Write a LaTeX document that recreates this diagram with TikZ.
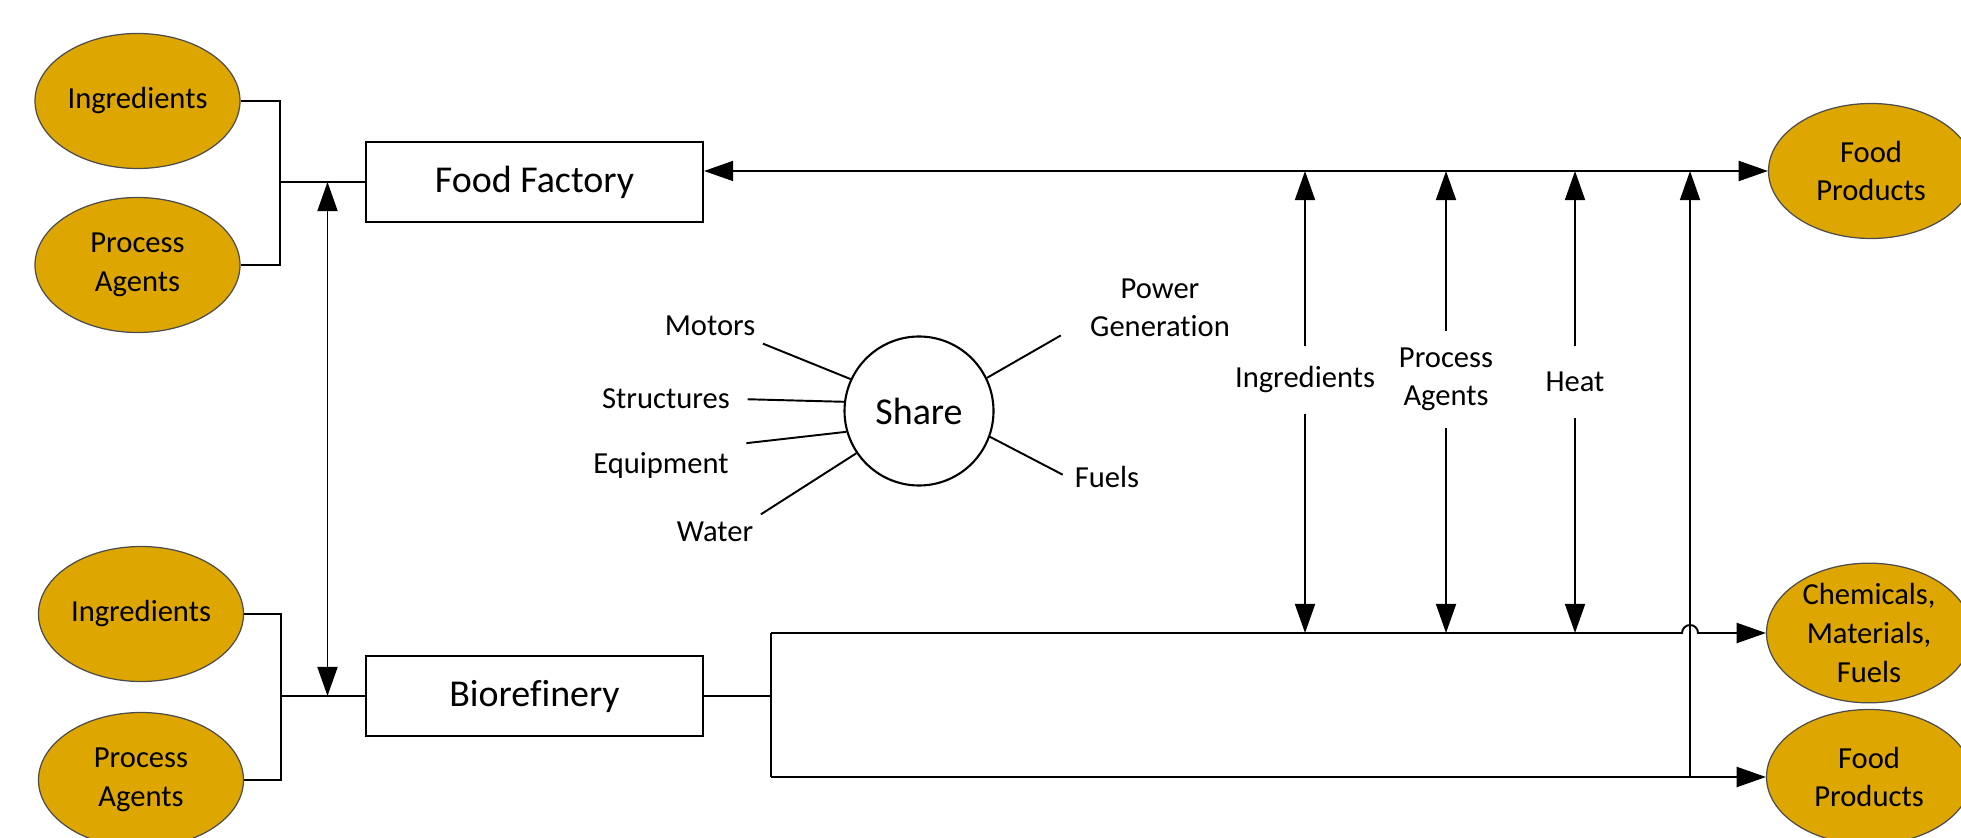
\documentclass[tikz,border=0pt]{standalone}
\usepackage{fontspec}
\setmainfont[Ligatures=NoCommon]{Carlito}
\usetikzlibrary{arrows.meta, calc, positioning, shapes.geometric}

\definecolor{gold}{HTML}{DDA600}

\tikzset{
  blob/.style={ellipse, draw=black!70, line width=0.35pt, fill=gold,
    minimum width=2.05cm, minimum height=1.35cm, inner sep=0pt, align=center,
    font=\fontsize{8.7}{11}\selectfont},
  unit/.style={rectangle, draw, line width=0.6pt, minimum width=3.37cm,
    minimum height=0.8cm, font=\fontsize{10.8}{13}\selectfont},
  tag/.style={inner sep=2pt, align=center, font=\fontsize{8.7}{10.7}\selectfont},
  link/.style={line width=0.55pt},
  flow/.style={link, -{Triangle[length=8.3pt, width=5.7pt]}},
  dflow/.style={link, {Triangle[length=8.3pt, width=5.7pt]}-{Triangle[length=8.3pt, width=5.7pt]}},
}

\begin{document}
\begin{tikzpicture}
\clip (0,0) rectangle (19.61,8.37);

% Inputs on the left
\node[blob] (ingA) at (1.375,7.36) {Ingredients};
\node[blob] (agtA) at (1.375,5.72) {Process\\Agents};
\node[blob] (ingB) at (1.41,2.23) {Ingredients};
\node[blob] (agtB) at (1.41,0.57) {Process\\Agents};

% Plants
\node[unit] (factory) at (5.345,6.55) {Food Factory};
\node[unit] (biore) at (5.345,1.41) {Biorefinery};

% Outputs on the right
\node[blob] (foodA) at (18.71,6.66) {Food\\Products};
\node[blob] (chem) at (18.69,2.04) {Chemicals,\\Materials,\\Fuels};
\node[blob] (foodB) at (18.69,0.60) {Food\\Products};

% Junctions
\coordinate (jA) at (2.80,6.55);
\coordinate (jB) at (2.81,1.41);
\coordinate (tA) at (3.275,6.55);
\coordinate (tB) at (3.275,1.41);
\coordinate (split) at (7.71,1.41);
\coordinate (hop) at (16.90,2.04);

% Brackets into the plants
\draw[link] (ingA.east) -| (jA) |- (agtA.east);
\draw[link] (jA) -- (factory.west);
\draw[link] (ingB.east) -| (jB) |- (agtB.east);
\draw[link] (jB) -- (biore.west);
\draw[dflow] (tA) -- (tB);

% Food factory to food products
\draw[dflow] (factory.east |- foodA.west) -- (foodA.west);

% Biorefinery outputs
\draw[link] (biore.east) -- (split);
\draw[link] (split |- chem.west) -- (split |- foodB.west);
\draw[flow] (split |- chem.west) -- ([xshift=-0.08cm]hop)
  arc[start angle=180, end angle=0, radius=0.08cm] -- (chem.west);
\draw[flow] (split |- foodB.west) -- (foodB.west);
\draw[flow] (hop |- foodB.west) -- (hop |- foodA.west);

% Exchanged streams
\node[tag, inner ysep=0.2cm] (vIng) at (13.05,4.57) {Ingredients};
\node[tag, inner ysep=0.17cm] (vAgt) at (14.46,4.575) {Process\\Agents};
\node[tag, inner ysep=0.25cm] (vHeat) at (15.75,4.55) {Heat};
\foreach \n in {vIng, vAgt, vHeat} {
  \draw[flow] (\n) -- (\n |- foodA.west);
  \draw[flow] (\n) -- (\n |- chem.west);
}

% Shared resources
\node[circle, draw, line width=0.6pt, minimum size=1.49cm, inner sep=0pt,
  font=\fontsize{10.8}{13}\selectfont] (share) at (9.19,4.26) {Share};
\node[tag] (lMot) at (7.10,5.11) {Motors};
\node[tag] (lStr) at (6.66,4.38) {Structures};
\node[tag] (lEqu) at (6.61,3.72) {Equipment};
\node[tag] (lWat) at (7.15,3.05) {Water};
\node[tag] (lPow) at (11.60,5.29) {Power\\Generation};
\node[tag] (lFue) at (11.07,3.60) {Fuels};

\draw[link] (lMot.south east) -- (share.155);
\draw[link, shorten <=0.1cm] (lStr.east) -- (share.173);
\draw[link, shorten <=0.1cm] (lEqu.north east) -- (share.196);
\draw[link] (lWat.north east) -- (share.214);
\draw[link, shorten >=0.25cm] (share.26) -- ([yshift=-1.5mm]lPow.west);
\draw[link, shorten >=0.05cm] (share.340) -- (lFue.west);
\end{tikzpicture}
\end{document}
